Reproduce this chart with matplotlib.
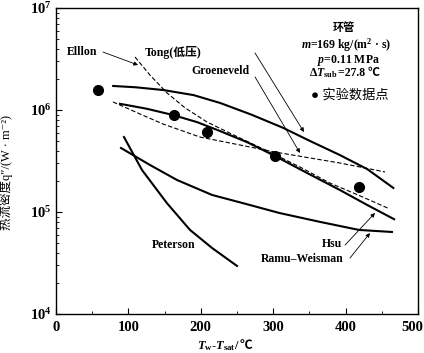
import matplotlib
matplotlib.use('Agg')
import matplotlib.pyplot as plt
from matplotlib.ticker import LogLocator, MultipleLocator, LogFormatterMathtext
from matplotlib.transforms import ScaledTranslation

plt.rcParams['font.family'] = ['Liberation Serif', 'Noto Sans CJK SC', 'DejaVu Serif']
plt.rcParams['font.weight'] = 'bold'
plt.rcParams['mathtext.fontset'] = 'custom'
plt.rcParams['mathtext.rm'] = 'Liberation Serif:bold'
plt.rcParams['mathtext.it'] = 'Liberation Serif:italic:bold'
plt.rcParams['mathtext.bf'] = 'Liberation Serif:bold'

# 实验数据点
exp_x = [58, 163, 208.6, 302, 418.5]
exp_q = [1.57e6, 8.9e5, 6.1e5, 3.54e5, 1.76e5]

# 上方粗实线
upper_x = [79, 110, 148, 190, 227, 270, 314, 350, 392, 430, 466]
upper_q = [1.72e6, 1.67e6, 1.57e6, 1.40e6, 1.17e6, 9.0e5, 6.67e5, 5.0e5, 3.62e5, 2.63e5, 1.72e5]

# Hsu
hsu_x = [88.4, 125, 161.6, 195, 226.5, 265, 302.5, 345, 392.3, 430, 467]
hsu_q = [1.15e6, 1.03e6, 8.93e5, 7.6e5, 6.22e5, 4.8e5, 3.54e5, 2.45e5, 1.64e5, 1.17e5, 8.5e4]

# Groeneveld (虚线)
gro_x = [78.7, 116, 147.8, 198.9, 254, 302.5, 392.3, 454.4]
gro_q = [1.20e6, 9.14e5, 7.29e5, 5.43e5, 4.54e5, 3.87e5, 3.02e5, 2.47e5]

# Tong(低压) (虚线)
tong_x = [109.1, 129.8, 153.3, 178.2, 208.6, 254.1, 298.3, 337, 378.5, 419.9, 458.6]
tong_q = [3.31e6, 2.20e6, 1.47e6, 1.05e6, 7.62e5, 5.31e5, 3.78e5, 2.76e5, 1.92e5, 1.44e5, 1.09e5]

# Peterson
pet_x = [93.9, 118.8, 153.3, 185.1, 215.5, 250]
pet_q = [5.43e5, 2.58e5, 1.22e5, 6.67e4, 4.44e4, 2.96e4]

# Ramu-Weisman
rw_x = [89.8, 129.8, 167.1, 215.5, 268, 308, 364.6, 418.5, 464]
rw_q = [4.24e5, 2.89e5, 2.06e5, 1.47e5, 1.17e5, 9.8e4, 8.0e4, 6.67e4, 6.37e4]

fig = plt.figure(figsize=(4.24, 3.53), dpi=100)
ax = fig.add_axes([56 / 424, 39 / 353, 362 / 424, 306 / 353])
ax.set_yscale('log')
ax.set_xlim(0, 500)
ax.set_ylim(1e4, 1e7)

ax.plot(upper_x, upper_q, color='k', lw=1.5)
ax.plot(hsu_x, hsu_q, color='k', lw=1.5)
ax.plot(pet_x, pet_q, color='k', lw=1.5)
ax.plot(rw_x, rw_q, color='k', lw=1.5)
ax.plot(gro_x, gro_q, color='k', lw=0.8, ls=(0, (4, 2)))
ax.plot(tong_x, tong_q, color='k', lw=0.8, ls=(0, (4, 2)))
ax.plot(exp_x, exp_q, 'o', color='k', ms=7)

arrow = dict(arrowstyle='-|>', lw=0.6, color='k', mutation_scale=6, shrinkA=0, shrinkB=0)
ax.annotate('', xy=(113.3, 2.76e6), xytext=(64.9, 3.7e6), arrowprops=arrow)
ax.annotate('', xy=(342.5, 6.08e5), xytext=(274.9, 3.62e6), arrowprops=arrow)
ax.annotate('', xy=(337, 3.79e5), xytext=(274.9, 2.11e6), arrowprops=arrow)
ax.annotate('', xy=(440.6, 9.78e4), xytext=(399.2, 4.74e4), arrowprops=arrow)
ax.annotate('', xy=(433.7, 6.22e4), xytext=(406.1, 3.54e4), arrowprops=arrow)

fs = 8.5
ax.text(35.9, 3.7e6, 'Elllon', fontsize=fs, ha='center', va='center')
ax.text(161.6, 3.7e6, 'Tong(低压)', fontsize=fs, ha='center', va='center')
ax.text(226.5, 2.41e6, 'Groeneveld', fontsize=fs, ha='center', va='center')
ax.text(163, 4.74e4, 'Peterson', fontsize=fs, ha='center', va='center')
ax.text(395, 4.85e4, 'Hsu', fontsize=fs, ha='right', va='center')
ax.text(397.8, 3.46e4, 'Ramu–Weisman', fontsize=fs, ha='right', va='center')

tr = ax.transAxes
ax.text(0.796, 0.935, '环管', fontsize=8, ha='center', va='center', transform=tr)
ax.text(0.801, 0.879, '$m$=169 kg/(m$^2$ · s)', fontsize=fs, ha='center', va='center', transform=tr)
ax.text(0.807, 0.830, '$p$=0.11 MPa', fontsize=fs, ha='center', va='center', transform=tr)
t1 = ax.text(0.699, 0.778, 'Δ$T_{\\rm sub}$', fontsize=fs, ha='left', va='baseline', transform=tr)
ax.annotate('=27.8 ℃', xy=(1, 0.778), xycoords=(t1, tr), fontsize=fs, ha='left', va='baseline')
ax.text(0.812, 0.716, '● 实验数据点', fontsize=9.5, ha='center', va='center', transform=tr,
        fontweight='normal')

# x 轴标题 (℃ 单独写, 以便字体回退)
t2 = ax.text(0.390, -0.114, '$T_{\\rm w}$-$T_{\\rm sat}$/', fontsize=9, ha='left', va='baseline',
             transform=tr)
ax.annotate('℃', xy=(1, -0.114), xycoords=(t2, tr), fontsize=9, ha='left', va='baseline',
            annotation_clip=False)
ax.set_ylabel('热流密度q″/(W · m⁻²)', fontsize=9, fontweight='normal')
ax.yaxis.set_label_coords(-0.118, 0.461)

ax.xaxis.set_major_locator(MultipleLocator(100))
ax.xaxis.set_minor_locator(MultipleLocator(50))
ax.yaxis.set_major_locator(LogLocator(base=10))
ax.yaxis.set_minor_locator(LogLocator(base=10, subs=range(2, 10)))
ax.yaxis.set_major_formatter(LogFormatterMathtext())
ax.tick_params(which='both', direction='in', top=False, right=False, labelsize=10.5)
ax.tick_params(which='major', length=4, width=0.8)
ax.tick_params(which='minor', length=2.5, width=0.6)
ax.tick_params(axis='x', pad=5)
for s in ax.spines.values():
    s.set_linewidth(1.0)

fig.canvas.draw()
for lab in ax.get_xticklabels():
    if lab.get_text() == '500':
        lab.set_horizontalalignment('right')
        lab.set_transform(lab.get_transform() + ScaledTranslation(0.05, 0, fig.dpi_scale_trans))

fig.savefig('out.png', dpi=100)
